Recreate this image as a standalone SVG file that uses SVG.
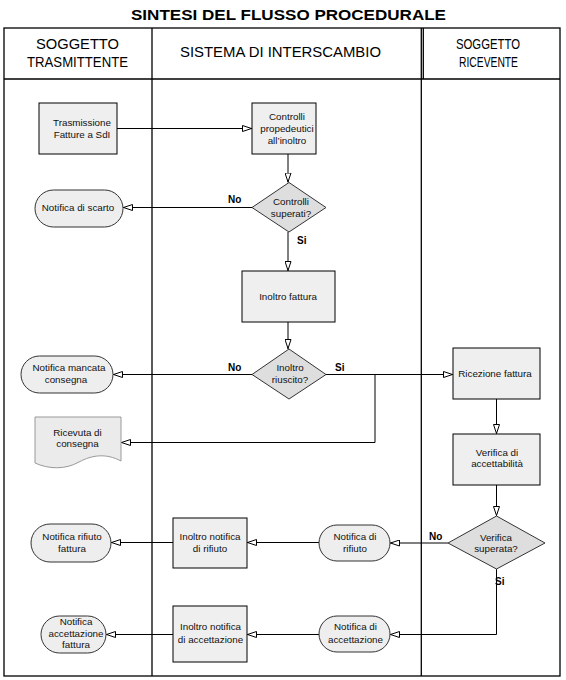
<svg xmlns="http://www.w3.org/2000/svg" width="566" height="680" viewBox="0 0 566 680">
<style>
.t{font-family:"Liberation Sans",Arial,sans-serif;font-size:9.8px;fill:#111;text-anchor:middle}
.h{font-family:"Liberation Sans",Arial,sans-serif;font-size:14px;fill:#000;text-anchor:middle}
.lb{font-family:"Liberation Sans",Arial,sans-serif;font-size:10px;font-weight:bold;fill:#000}
.box{fill:#efefef;stroke:#000;stroke-width:1}
.stad{fill:#eeeeee;stroke:#333;stroke-width:1}
.dia{fill:#dedede;stroke:#333;stroke-width:1}
.doc{fill:#ebebeb;stroke:#999;stroke-width:1}
.frame{fill:none;stroke:#000;stroke-width:1.3}
.c{fill:none;stroke:#000;stroke-width:1}
.ca{fill:none;stroke:#000;stroke-width:1;marker-end:url(#arr)}
</style>
<defs>
<marker id="arr" viewBox="0 0 10 7" refX="10" refY="3.5" markerWidth="10" markerHeight="7" markerUnits="userSpaceOnUse" orient="auto">
<path d="M0.5,0.5 L9.5,3.5 L0.5,6.5 Z" fill="#fff" stroke="#000" stroke-width="1"/>
</marker>
</defs>
<rect width="566" height="680" fill="#fff"/>
<text x="288.5" y="20" font-family="'Liberation Sans',Arial,sans-serif" font-size="15" font-weight="bold" text-anchor="middle" textLength="315" lengthAdjust="spacingAndGlyphs">SINTESI DEL FLUSSO PROCEDURALE</text>
<g id="lanes">
<rect class="frame" x="4" y="28" width="556" height="648"/>
<line class="frame" x1="4" y1="79" x2="560" y2="79"/>
<line class="frame" x1="152" y1="28" x2="152" y2="676"/>
<line class="frame" x1="421.3" y1="28" x2="421.3" y2="676"/>
<line class="frame" x1="423.3" y1="28" x2="423.3" y2="79"/>
<text class="h" x="77.5" y="49.3" textLength="83" lengthAdjust="spacingAndGlyphs">SOGGETTO</text>
<text class="h" x="77.5" y="66.7" textLength="101" lengthAdjust="spacingAndGlyphs">TRASMITTENTE</text>
<text class="h" x="280.5" y="57.3" textLength="201" lengthAdjust="spacingAndGlyphs">SISTEMA DI INTERSCAMBIO</text>
<text class="h" x="488" y="49.3" textLength="64" lengthAdjust="spacingAndGlyphs">SOGGETTO</text>
<text class="h" x="488.5" y="66.7" textLength="59" lengthAdjust="spacingAndGlyphs">RICEVENTE</text>
</g>
<g id="connectors">
<path class="ca" d="M117,128.5 H252"/>
<path class="ca" d="M288,154 V182.5"/>
<path class="ca" d="M252,207.5 H123"/>
<path class="ca" d="M288,232 V271"/>
<path class="ca" d="M288,322 V349"/>
<path class="ca" d="M252,374.5 H113"/>
<path class="ca" d="M326,374.5 H453"/>
<path class="ca" d="M375,374.5 V442.5 H121"/>
<path class="ca" d="M496.5,399 V434"/>
<path class="ca" d="M496.5,485 V516"/>
<path class="ca" d="M448,543 H390"/>
<path class="ca" d="M319,542.5 H247"/>
<path class="ca" d="M173,542.5 H111"/>
<path class="ca" d="M496.5,569 V634.5 H390"/>
<path class="ca" d="M319,634.5 H247"/>
<path class="ca" d="M173,634.5 H106"/>
<text class="lb" x="228" y="203">No</text>
<text class="lb" x="297" y="244">Si</text>
<text class="lb" x="228" y="370.5">No</text>
<text class="lb" x="335" y="370.5">Si</text>
<text class="lb" x="429" y="539.5">No</text>
<text class="lb" x="495" y="585">Si</text>
</g>
<g id="trasmissione">
<rect class="box" x="39" y="103" width="78" height="51"/>
<text class="t" x="82" y="126">Trasmissione</text>
<text class="t" x="82" y="138">Fatture a SdI</text>
</g>
<g id="controlli-propedeutici">
<rect class="box" x="252" y="103" width="64" height="51"/>
<text class="t" x="287" y="119.5">Controlli</text>
<text class="t" x="287" y="131.5">propedeutici</text>
<text class="t" x="287" y="143.5">all’inoltro</text>
</g>
<g id="controlli-superati">
<polygon class="dia" points="289,182.5 326,207.5 289,232 252,207.5"/>
<text class="t" x="291" y="205">Controlli</text>
<text class="t" x="291" y="216.5">superati?</text>
</g>
<g id="notifica-scarto">
<rect class="stad" x="35" y="190" width="88" height="37" rx="18.5"/>
<text class="t" x="78" y="211">Notifica di scarto</text>
</g>
<g id="inoltro-fattura">
<rect class="box" x="242" y="271" width="93" height="51"/>
<text class="t" x="288" y="299.5">Inoltro fattura</text>
</g>
<g id="inoltro-riuscito">
<polygon class="dia" points="289,349 326,374.5 289,399 252,374.5"/>
<text class="t" x="290" y="371">Inoltro</text>
<text class="t" x="290" y="382.5">riuscito?</text>
</g>
<g id="notifica-mancata-consegna">
<rect class="stad" x="21" y="356" width="92" height="37" rx="18.5"/>
<text class="t" x="69" y="370.5">Notifica mancata</text>
<text class="t" x="66" y="382.5">consegna</text>
</g>
<g id="ricevuta-consegna">
<path class="doc" d="M35,417 H121 V461 C106,453 92,455 79,462 C65,470 48,469 35,463 Z"/>
<text class="t" x="77.5" y="435.5">Ricevuta di</text>
<text class="t" x="77.5" y="447">consegna</text>
</g>
<g id="ricezione-fattura">
<rect class="box" x="453" y="348" width="87" height="51"/>
<text class="t" x="495" y="377">Ricezione fattura</text>
</g>
<g id="verifica-accettabilita">
<rect class="box" x="453" y="434" width="87" height="51"/>
<text class="t" x="497" y="455.5">Verifica di</text>
<text class="t" x="497" y="467">accettabilità</text>
</g>
<g id="verifica-superata">
<polygon class="dia" points="496.5,516 545,543 496.5,569 448,543"/>
<text class="t" x="496" y="540.5">Verifica</text>
<text class="t" x="496" y="552">superata?</text>
</g>
<g id="notifica-rifiuto">
<rect class="stad" x="319" y="525" width="71" height="36" rx="18"/>
<text class="t" x="355" y="539.5">Notifica di</text>
<text class="t" x="355" y="551.5">rifiuto</text>
</g>
<g id="inoltro-notifica-rifiuto">
<rect class="box" x="173" y="518" width="74" height="50"/>
<text class="t" x="210" y="539.5">Inoltro notifica</text>
<text class="t" x="210" y="551.5">di rifiuto</text>
</g>
<g id="notifica-rifiuto-fattura">
<rect class="stad" x="31" y="524" width="80" height="38" rx="19"/>
<text class="t" x="72" y="539.5">Notifica rifiuto</text>
<text class="t" x="72" y="551.5">fattura</text>
</g>
<g id="notifica-accettazione">
<rect class="stad" x="319" y="616" width="71" height="36" rx="18"/>
<text class="t" x="355.5" y="629.5">Notifica di</text>
<text class="t" x="355.5" y="643">accettazione</text>
</g>
<g id="inoltro-notifica-accettazione">
<rect class="box" x="173" y="606" width="74" height="56"/>
<text class="t" x="210.5" y="629.5">Inoltro notifica</text>
<text class="t" x="210.5" y="643">di accettazione</text>
</g>
<g id="notifica-accettazione-fattura">
<rect class="stad" x="41" y="616" width="65" height="37" rx="18.5"/>
<text class="t" x="76" y="624.5">Notifica</text>
<text class="t" x="76" y="636.5">accettazione</text>
<text class="t" x="76" y="648">fattura</text>
</g>
</svg>
